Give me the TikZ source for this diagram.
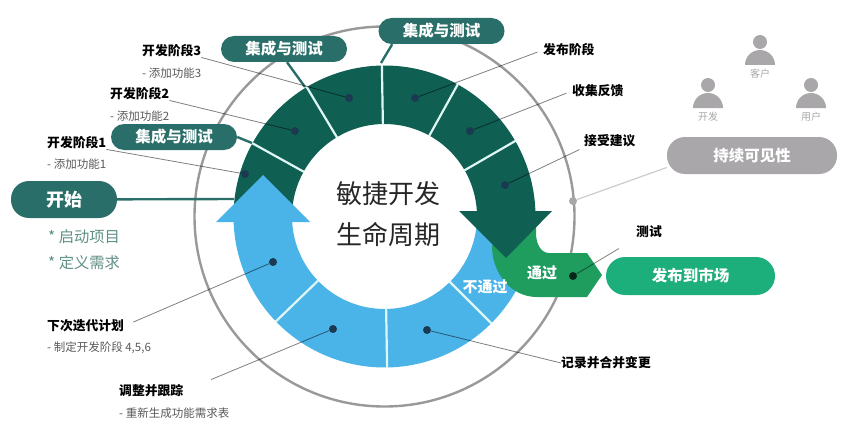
\documentclass[tikz,border=0pt]{standalone}
\usepackage{fontspec}
\setmainfont{Noto Sans CJK SC}
\definecolor{ringdark}{HTML}{0F5F52}
\definecolor{ringblue}{HTML}{4AB3E8}
\definecolor{pillteal}{HTML}{2A6E69}
\definecolor{passgreen}{HTML}{1F9D5F}
\definecolor{marketgreen}{HTML}{1CAF7B}
\definecolor{softgrey}{HTML}{A9A7A9}
\definecolor{dotnavy}{HTML}{1B3A52}
\definecolor{seamcol}{HTML}{DFF7F4}
\definecolor{notegreen}{HTML}{5F8F85}
\tikzset{
  pill/.style={rectangle,rounded corners=13pt,fill=pillteal,text=white,inner sep=0pt,minimum width=126pt,minimum height=26pt,font=\bfseries\fontsize{15.5}{15.5}\selectfont},
  stagelabel/.style={anchor=west,inner sep=0pt,text=black,font=\bfseries\fontsize{12.8}{13}\selectfont},
  sublabel/.style={anchor=west,inner sep=0pt,text=black!65,font=\fontsize{11.5}{12}\selectfont},
  notelabel/.style={anchor=west,inner sep=0pt,text=notegreen,font=\fontsize{15.3}{16}\selectfont},
  personlabel/.style={inner sep=0pt,text=softgrey,font=\fontsize{10}{11}\selectfont},
  ringdot/.style={circle,fill=dotnavy,inner sep=0pt,minimum size=8pt},
  leader/.style={draw=black,draw opacity=0.5,line width=0.8pt},
  link/.style={draw=pillteal,line width=2.4pt},
  seam/.style={draw=seamcol,line width=2.2pt}
}
\begin{document}
\begin{tikzpicture}[x=1pt,y=1pt]
  \useasboundingbox (0,0) rectangle (848,432);
  \draw[black!40,line width=2.4pt] (384.5,215.5) circle (190);
  \begin{scope}[shift={(384.5,215.5)}]
    \foreach \a/\b in {180/224,224/271,271/315,315/355}
      \fill[ringblue] (\a:151) arc[start angle=\a,end angle=\b,radius=151] -- (\b:92.5) arc[start angle=\b,end angle=\a,radius=92.5] -- cycle;
    \foreach \a/\b in {0/30,30/61,61/91,91/121,121/151,151/180}
      \fill[ringdark] (\a:151) arc[start angle=\a,end angle=\b,radius=151] -- (\b:92.5) arc[start angle=\b,end angle=\a,radius=92.5] -- cycle;
    \foreach \a in {30,61,91,121,151,224,271,315}
      \draw[seam] (\a:92) -- (\a:151.5);
  \end{scope}
  \fill[ringblue] (263,257) -- (216,210) -- (310,210) -- cycle;
  \fill[passgreen] (536,205) -- (536,199) .. controls (536,188) and (541,179) .. (549,179) -- (587,179) -- (602,157) -- (587,135) -- (537,135) .. controls (510,135) and (492,160) .. (492,186) -- (500,200) -- cycle;
  \fill[ringdark] (459,221) -- (552,221) -- (506,174) -- cycle;

  \node[pill,minimum width=106pt,minimum height=37pt,rounded corners=18pt,font=\bfseries\fontsize{18}{18}\selectfont] (start) at (64,232.5) {开始};
  \node[pill] (testa) at (174,295) {集成与测试};
  \node[pill] (testb) at (284,383) {集成与测试};
  \node[pill] (testc) at (441.5,401) {集成与测试};
  \node[pill,fill=softgrey,minimum width=170pt,minimum height=37pt,rounded corners=18pt] (persist) at (752,276.5) {持续可见性};
  \node[pill,fill=marketgreen,minimum width=169pt,minimum height=38pt,rounded corners=19pt] (market) at (690.5,156) {发布到市场};

  \coordinate (ringleft) at (234,233);
  \coordinate (sepa) at (252,289);
  \coordinate (sepb) at (305,345);
  \coordinate (sepc) at (381,369);
  \draw[link] (start) -- (ringleft);
  \draw[link] (testa.east) -- (sepa);
  \draw[link] (testb.south) ++(3,0) -- (sepb);
  \draw[link] (testc.195) -- (sepc);

  \node[ringdot] (dotthree) at (349,334) {};
  \node[ringdot] (dottwo) at (295,301) {};
  \node[ringdot] (dotone) at (245,258) {};
  \node[ringdot] (dotrelease) at (415,334) {};
  \node[ringdot] (dotfeedback) at (470,301) {};
  \node[ringdot] (dotaccept) at (505,247) {};
  \node[ringdot] (dotnext) at (273,170) {};
  \node[ringdot] (dotadjust) at (333,103) {};
  \node[ringdot] (dotrecord) at (427,102) {};
  \node[ringdot,fill=black!75!passgreen] (dottest) at (573,156) {};

  \node[stagelabel] (stagethree) at (142,381) {开发阶段3};
  \node[sublabel] (subthree) at (142,359) {- 添加功能3};
  \node[stagelabel] (stagetwo) at (110,338) {开发阶段2};
  \node[sublabel] (subtwo) at (110,316) {- 添加功能2};
  \node[stagelabel] (stageone) at (47,289) {开发阶段1};
  \node[sublabel] (subone) at (47,268) {- 添加功能1};
  \node[stagelabel] (release) at (543,382) {发布阶段};
  \node[stagelabel] (feedback) at (572,341) {收集反馈};
  \node[stagelabel] (accept) at (584,291) {接受建议};
  \node[stagelabel] (testing) at (636,200) {测试};
  \node[stagelabel] (record) at (561,69) {记录并合并变更};
  \node[stagelabel] (nextplan) at (47,106) {下次迭代计划};
  \node[sublabel] (subnext) at (47,84) {- 制定开发阶段 4,5,6};
  \node[stagelabel] (adjust) at (119,41) {调整并跟踪};
  \node[sublabel] (subadjust) at (119,19) {- 重新生成功能需求表};
  \node[notelabel] (noteone) at (48,195) {* 启动项目};
  \node[notelabel] (notetwo) at (48,169) {* 定义需求};

  \draw[leader] (stagethree.south east) -- (dotthree);
  \draw[leader] (stagetwo.south east) -- (dottwo);
  \draw[leader] (stageone.south east) -- (dotone);
  \draw[leader,shorten <=6pt] (release.west) -- (dotrelease);
  \draw[leader,shorten <=6pt] (feedback.west) -- (dotfeedback);
  \draw[leader,shorten <=5pt] (accept.south west) -- (dotaccept);
  \draw[leader,shorten <=20pt] (testing.south west) -- (dottest);
  \draw[leader] (record.west) -- (dotrecord);
  \draw[leader,shorten <=10pt] (nextplan.east) -- (dotnext);
  \draw[leader,shorten <=30pt] (adjust.east) -- (dotadjust);

  \node[circle,fill=softgrey,inner sep=0pt,minimum size=8pt] (visdot) at (573,231) {};
  \draw[black!20,line width=1.2pt] (visdot) -- (persist.188);

  \foreach \px/\py/\ptext in {760/367/客户,708/324/开发,811/324/用户} {
    \fill[softgrey] (\px,\py+23) circle (7);
    \fill[softgrey] (\px-15,\py) arc[start angle=180,end angle=0,x radius=15,y radius=15] -- cycle;
    \node[personlabel] at (\px,\py-9) {\ptext};
  }

  \node[font=\fontsize{26}{26}\selectfont,text=black!85] (titleone) at (388,238) {敏捷开发};
  \node[font=\fontsize{26}{26}\selectfont,text=black!85] (titletwo) at (388,197) {生命周期};
  \node[inner sep=0pt,text=white,font=\bfseries\fontsize{15}{15}\selectfont] (pass) at (542,159) {通过};
  \node[inner sep=0pt,text=white,font=\bfseries\fontsize{15}{15}\selectfont] (fail) at (485,145) {不通过};
\end{tikzpicture}
\end{document}
